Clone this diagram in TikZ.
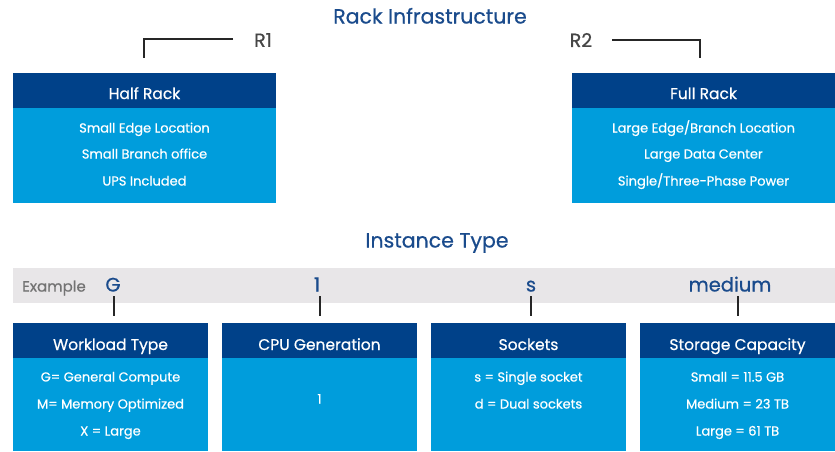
\documentclass[tikz,border=0pt]{standalone}
\usepackage{fontspec}
\setmainfont{Poppins}[FakeBold=0.6]
\definecolor{hdrblue}{RGB}{0,65,137}
\definecolor{bodyblue}{RGB}{0,157,220}
\definecolor{titleblue}{RGB}{26,75,140}
\definecolor{bandgray}{RGB}{232,230,232}
\definecolor{labelgray}{RGB}{70,70,70}
\begin{document}
\begin{tikzpicture}[x=1pt,y=-1pt,
  title/.style={text=titleblue,font=\fontsize{20.5}{24}\selectfont,text height=15pt,text depth=4pt},
  hdr/.style={text=white,font=\fontsize{15.5}{18}\selectfont,text height=11pt,text depth=3pt},
  item/.style={text=white,font=\fontsize{13}{15}\selectfont,text height=9.5pt,text depth=2.5pt},
  rlabel/.style={text=labelgray,font=\fontsize{19}{22}\selectfont},
  code/.style={text=titleblue,font=\fontsize{19.5}{24}\selectfont,text height=15pt,text depth=4pt},
  tick/.style={draw=black!85,line width=1.2pt}]
\useasboundingbox (0,0) rectangle (835,451);

% titles
\node[title] (t1) at (430,18) {Rack Infrastructure};
\node[title] (t2) at (437,242) {Instance Type};

% rack boxes
\fill[bodyblue] (13,108) rectangle (276,203);
\fill[hdrblue] (13,73) rectangle (276,108);
\node[hdr] (half) at (144.5,95) {Half Rack};
\node[item] (h1) at (144.5,129) {Small Edge Location};
\node[item] (h2) at (144.5,155) {Small Branch office};
\node[item] (h3) at (144.5,182) {UPS Included};

\fill[bodyblue] (572,108) rectangle (835,203);
\fill[hdrblue] (572,73) rectangle (835,108);
\node[hdr] (full) at (703.5,95) {Full Rack};
\node[item] (f1) at (703.5,129) {Large Edge/Branch Location};
\node[item] (f2) at (703.5,155) {Large Data Center};
\node[item] (f3) at (703.5,182) {Single/Three-Phase Power};

% rack labels with leaders
\node[rlabel] (r1) at (263,40) {R1};
\node[rlabel] (r2) at (581,40) {R2};
\coordinate (r1a) at (233,39);
\coordinate (r1b) at (144,58);
\coordinate (r2a) at (612,40);
\coordinate (r2b) at (700,58);
\draw[tick] (r1a) -| (r1b);
\draw[tick] (r2a) -| (r2b);

% example band
\fill[bandgray] (13,268) rectangle (835,303);
\node[text=black!55,font=\fontsize{15}{18}\selectfont] (ex) at (54,288) {Example};
\node[code] (cg) at (113,286) {G};
\node[code] (c1) at (317,286) {1};
\node[code] (cs) at (531,286) {s};
\node[code] (cm) at (730,286) {medium};

% instance boxes
\foreach \xa/\xb in {13/208, 222/417, 431/626, 640/835}{
  \fill[bodyblue] (\xa,358) rectangle (\xb,451);
  \fill[hdrblue] (\xa,323) rectangle (\xb,358);
}
\node[hdr] (wt) at (110.5,346) {Workload Type};
\node[item] (w1) at (110.5,378) {G= General Compute};
\node[item] (w2) at (110.5,405) {M= Memory Optimized};
\node[item] (w3) at (110.5,432) {X = Large};

\node[hdr] (cpu) at (319.5,346) {CPU Generation};
\node[item] (cp1) at (319.5,400) {1};

\node[hdr] (sk) at (528.5,346) {Sockets};
\node[item] (s1) at (528.5,378) {s = Single socket};
\node[item] (s2) at (528.5,405) {d = Dual sockets};

\node[hdr] (st) at (737.5,346) {Storage Capacity};
\node[item] (st1) at (737.5,378) {Small = 11.5 GB};
\node[item] (st2) at (737.5,405) {Medium = 23 TB};
\node[item] (st3) at (737.5,432) {Large = 61 TB};

% ticks from codes down to boxes
\draw[tick] (114,296) -- (114,316);
\draw[tick] (320,296) -- (320,316);
\draw[tick] (531,296) -- (531,316);
\draw[tick] (738,296) -- (738,316);
\end{tikzpicture}
\end{document}
